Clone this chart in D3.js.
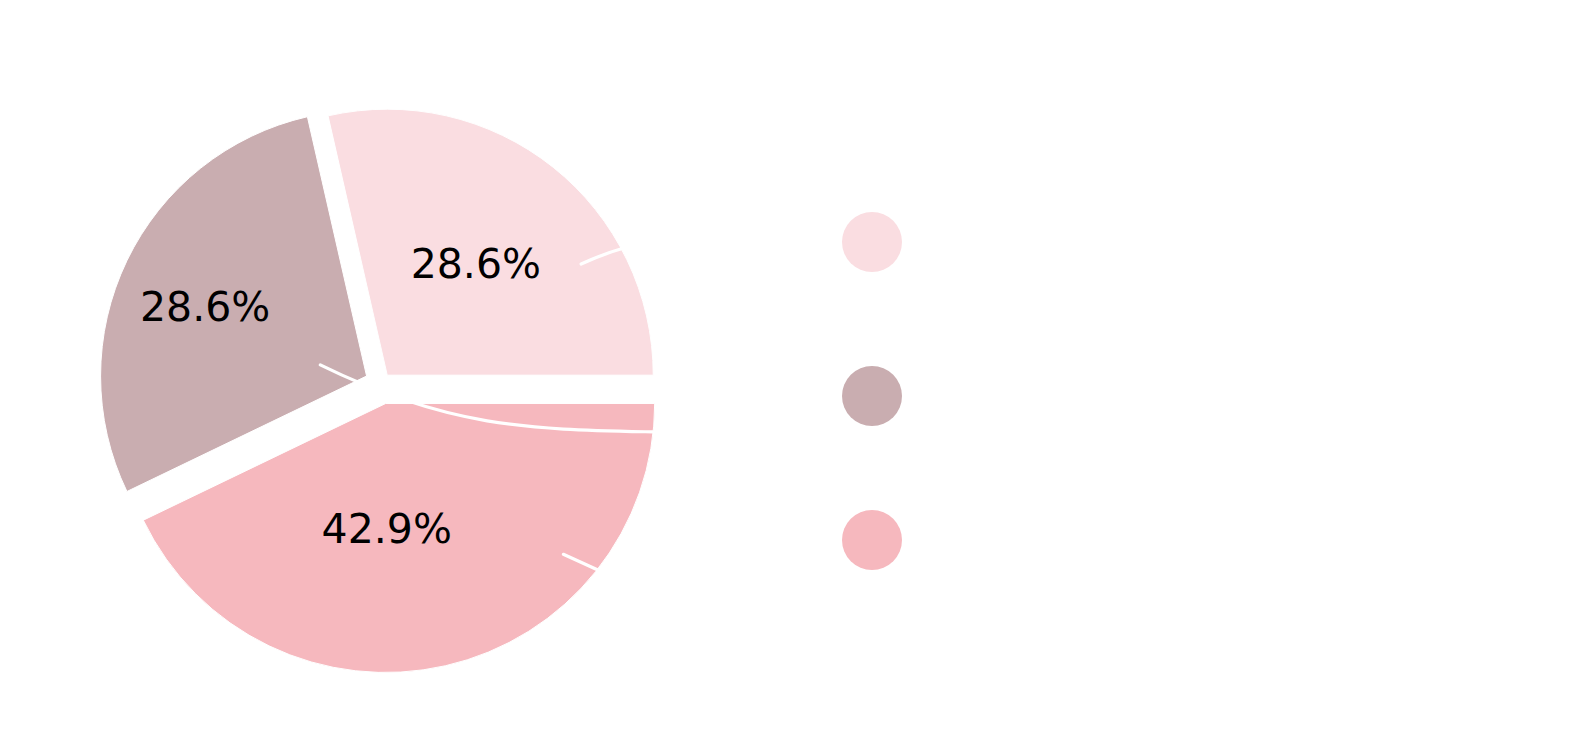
<!DOCTYPE html>
<html>
<head>
<meta charset="utf-8">
<script src="https://cdn.jsdelivr.net/npm/d3@7"></script>
<style>
  body { margin: 0; background: #fff; }
  text { font-family: "DejaVu Sans", sans-serif; }
</style>
</head>
<body>
<svg id="chart" width="1582" height="751"></svg>
<script>
// data
var categories = ["Group A", "Group B", "Group C"];
var values = [2, 2, 3];
var colors = ["#FADDE1", "#C9ADB0", "#F6B8BE"];

// layout
var width = 1582, height = 751;
var cx = 381, cy = 383, radius = 266;
var explode = [10, 16, 21];            // px, along each slice bisector
var sliceRadius = [266, 266, 269];
// label position relative to the slice apex, in radius units
var labelPos = [[0.333, -0.421], [-0.607, -0.263], [0.004, 0.468]];
// leader curves (start, ctrl1, ctrl2, end) relative to the slice apex, radius units
var leaders = [
    [[0.729, -0.418], [0.781, -0.442], [0.834, -0.462], [0.890, -0.478]],
    [[-0.174, -0.042], [0.315, 0.198], [0.624, 0.200], [1.076, 0.210]],
    [[0.668, 0.567], [0.709, 0.586], [0.751, 0.605], [0.800, 0.627]]
];
var legendX = 872, legendR = 30;
var legendY = [242, 396, 540];

var svg = d3.select("#chart");
var total = d3.sum(values);
var fmt = d3.format(".1%");

// pie goes counter-clockwise from 3 o'clock, like matplotlib
var pie = d3.pie()
    .sort(null)
    .value(function(d) { return d; })
    .startAngle(Math.PI / 2)
    .endAngle(Math.PI / 2 - 2 * Math.PI);
var arc = d3.arc()
    .innerRadius(0)
    .outerRadius(function(d) { return sliceRadius[d.i]; });

var slices = pie(values).map(function(d, i) {
    var mid = (d.startAngle + d.endAngle) / 2;
    d.ox = cx + explode[i] * Math.sin(mid);
    d.oy = cy - explode[i] * Math.cos(mid);
    d.i = i;
    return d;
});

var g = svg.append("g");

g.selectAll("path.wedge")
    .data(slices)
  .enter().append("path")
    .attr("class", "wedge")
    .attr("transform", function(d) { return "translate(" + d.ox + "," + d.oy + ")"; })
    .attr("d", arc)
    .attr("fill", function(d) { return colors[d.i]; })
    .attr("stroke", "#fff")
    .attr("stroke-width", 1);

// white leader lines
g.selectAll("path.leader")
    .data(slices)
  .enter().append("path")
    .attr("class", "leader")
    .attr("d", function(d) {
        var p = leaders[d.i].map(function(q) {
            return [d.ox + q[0] * radius, d.oy + q[1] * radius];
        });
        var path = d3.path();
        path.moveTo(p[0][0], p[0][1]);
        path.bezierCurveTo(p[1][0], p[1][1], p[2][0], p[2][1], p[3][0], p[3][1]);
        return path.toString();
    })
    .attr("fill", "none")
    .attr("stroke", "#fff")
    .attr("stroke-width", 3.2)
    .attr("stroke-linecap", "round");

// percentage labels
g.selectAll("text.pct")
    .data(slices)
  .enter().append("text")
    .attr("class", "pct")
    .attr("x", function(d) { return d.ox + labelPos[d.i][0] * radius; })
    .attr("y", function(d) { return d.oy + labelPos[d.i][1] * radius; })
    .attr("dy", "0.36em")
    .attr("text-anchor", "middle")
    .attr("font-size", "41px")
    .attr("fill", "#000")
    .text(function(d) { return fmt(d.value / total); });

// legend markers
svg.append("g").selectAll("circle")
    .data(categories)
  .enter().append("circle")
    .attr("cx", legendX)
    .attr("cy", function(d, i) { return legendY[i]; })
    .attr("r", legendR)
    .attr("fill", function(d, i) { return colors[i]; });
</script>
</body>
</html>
